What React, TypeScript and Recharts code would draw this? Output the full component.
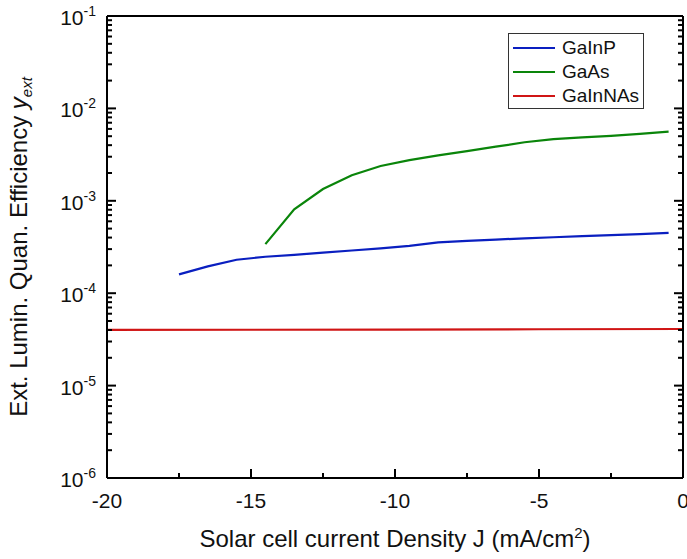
import { LineChart, Line, XAxis, YAxis } from 'recharts'

// current density J (mA/cm^2) and external luminescence efficiency per material
const jGaInP = [-17.5, -16.5, -15.5, -14.5, -13.5, -12.5, -11.5, -10.5, -9.5, -8.5, -7.5, -6.5, -5.5, -4.5, -3.5, -2.5, -1.5, -0.5]
const effGaInP = [1.6e-4, 1.95e-4, 2.3e-4, 2.48e-4, 2.6e-4, 2.75e-4, 2.9e-4, 3.05e-4, 3.25e-4, 3.55e-4, 3.68e-4, 3.8e-4, 3.93e-4, 4.03e-4, 4.15e-4, 4.25e-4, 4.35e-4, 4.5e-4]

const jGaAs = [-14.5, -13.5, -12.5, -11.5, -10.5, -9.5, -8.5, -7.5, -6.5, -5.5, -4.5, -3.5, -2.5, -1.5, -0.5]
const effGaAs = [3.4e-4, 8.1e-4, 1.34e-3, 1.89e-3, 2.38e-3, 2.75e-3, 3.1e-3, 3.45e-3, 3.85e-3, 4.3e-3, 4.64e-3, 4.85e-3, 5.05e-3, 5.3e-3, 5.6e-3]

const jGaInNAs = [-20, -15, -10, -5, 0]
const effGaInNAs = [4.0e-5, 4.02e-5, 4.04e-5, 4.07e-5, 4.1e-5]

const xTicks = [-20, -17.5, -15, -12.5, -10, -7.5, -5, -2.5, 0]
const xMajor = [-20, -15, -10, -5, 0]
const yExps = [-6, -5, -4, -3, -2, -1]
const yMinorMult = [2, 3, 4, 5, 6, 7, 8, 9]

const yTicks: number[] = []
yExps.forEach((e) => {
  yTicks.push(Math.pow(10, e))
  if (e < -1) yMinorMult.forEach((m) => yTicks.push(m * Math.pow(10, e)))
})

const series = [
  { name: 'GaInP', color: '#0a1fc0', data: jGaInP.map((j, i) => ({ j, v: effGaInP[i] })) },
  { name: 'GaAs', color: '#0a850a', data: jGaAs.map((j, i) => ({ j, v: effGaAs[i] })) },
  { name: 'GaInNAs', color: '#d01515', data: jGaInNAs.map((j, i) => ({ j, v: effGaInNAs[i] })) },
]

const FONT = '"Liberation Sans", Arial, sans-serif'
const INK = 'black'

const isMajorY = (v: number) => {
  const l = Math.log10(v)
  return Math.abs(l - Math.round(l)) < 1e-6
}

function LeftTick(p: any) {
  const v = p.payload.value
  const major = isMajorY(v)
  return (
    <g>
      <line x1={p.x} x2={p.x + (major ? 9 : 5)} y1={p.y} y2={p.y} stroke={INK} strokeWidth={2} />
      {major && (
        <text x={p.x - 11} y={p.y + 9} textAnchor="end" fontSize={21} fill="#111" fontFamily={FONT}>
          10
          <tspan dy={-9} fontSize={14}>{Math.round(Math.log10(v))}</tspan>
        </text>
      )}
    </g>
  )
}
function RightTick(p: any) {
  const major = isMajorY(p.payload.value)
  return <line x1={p.x} x2={p.x - (major ? 9 : 5)} y1={p.y} y2={p.y} stroke={INK} strokeWidth={2} />
}
function BottomTick(p: any) {
  const major = xMajor.includes(p.payload.value)
  return (
    <g>
      <line x1={p.x} x2={p.x} y1={p.y} y2={p.y - (major ? 9 : 5)} stroke={INK} strokeWidth={2} />
      {major && (
        <text x={p.x} y={p.y + 30} textAnchor="middle" fontSize={21} fill="#111" fontFamily={FONT}>
          {p.payload.value}
        </text>
      )}
    </g>
  )
}
function TopTick(p: any) {
  const major = xMajor.includes(p.payload.value)
  return <line x1={p.x} x2={p.x} y1={p.y} y2={p.y + (major ? 9 : 5)} stroke={INK} strokeWidth={2} />
}

function XTitle(p: any) {
  const vb = p.viewBox
  return (
    <text x={vb.x + vb.width / 2} y={vb.y + 69} textAnchor="middle" fontSize={24} fill="#111" fontFamily={FONT}>
      Solar cell current Density J (mA/cm
      <tspan dy={-9} fontSize={15}>2</tspan>
      <tspan dy={9}>)</tspan>
    </text>
  )
}

function YTitle(p: any) {
  const vb = p.viewBox
  const cx = vb.x + 27
  const cy = vb.y + vb.height / 2
  return (
    <text x={cx} y={cy} transform={`rotate(-90, ${cx}, ${cy})`} textAnchor="middle" fontSize={24} fill="#111" fontFamily={FONT}>
      Ext. Lumin. Quan. Efficiency <tspan fontStyle="italic">y</tspan>
      <tspan fontStyle="italic" fontSize={15} dy={5}>ext</tspan>
    </text>
  )
}

export default function App() {
  return (
    <div style={{ position: 'absolute', left: 0, top: 0 }}>
      <LineChart width={687} height={559} margin={{ top: 15, right: 3, left: 0, bottom: 0 }}>
        <XAxis xAxisId="b" dataKey="j" type="number" domain={[-20, 0]} ticks={xTicks} interval={0} height={81} tickSize={0} tickMargin={0} tick={(p: any) => <BottomTick {...p} />} axisLine={{ stroke: INK, strokeWidth: 2 }} label={(p: any) => <XTitle {...p} />} />
        <XAxis xAxisId="t" orientation="top" dataKey="j" type="number" domain={[-20, 0]} ticks={xTicks} interval={0} height={1} tickSize={0} tickMargin={0} tick={(p: any) => <TopTick {...p} />} axisLine={{ stroke: INK, strokeWidth: 2 }} />
        <YAxis yAxisId="l" dataKey="v" type="number" scale="log" domain={[1e-6, 1e-1]} ticks={yTicks} interval={0} width={107} tickSize={0} tickMargin={0} tick={(p: any) => <LeftTick {...p} />} axisLine={{ stroke: INK, strokeWidth: 2 }} label={(p: any) => <YTitle {...p} />} allowDataOverflow />
        <YAxis yAxisId="r" orientation="right" dataKey="v" type="number" scale="log" domain={[1e-6, 1e-1]} ticks={yTicks} interval={0} width={1} tickSize={0} tickMargin={0} tick={(p: any) => <RightTick {...p} />} axisLine={{ stroke: INK, strokeWidth: 2 }} allowDataOverflow />
        {series.map((s) => (
          <Line
            key={s.name}
            xAxisId="b"
            yAxisId="l"
            data={s.data}
            dataKey="v"
            type="linear"
            stroke={s.color}
            strokeWidth={2.2}
            dot={false}
            isAnimationActive={false}
          />
        ))}
      </LineChart>

      <div
        style={{
          position: 'absolute',
          left: 508,
          top: 33,
          width: 134,
          height: 74,
          border: '1px solid #333',
          background: '#fff',
          fontFamily: FONT,
        }}
      >
        {series.map((s, i) => (
          <div key={s.name} style={{ position: 'absolute', left: 4, top: 2 + i * 24, height: 24, display: 'flex', alignItems: 'center' }}>
            <div style={{ width: 42, height: 2.5, background: s.color }} />
            <span style={{ marginLeft: 7, fontSize: 19, color: '#111', whiteSpace: 'nowrap' }}>{s.name}</span>
          </div>
        ))}
      </div>
    </div>
  )
}
